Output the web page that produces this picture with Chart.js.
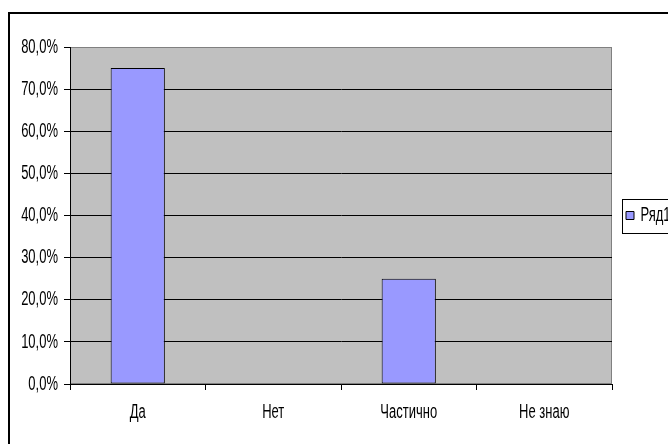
<!DOCTYPE html>
<html><head><meta charset="utf-8">
<script src="https://cdn.jsdelivr.net/npm/chart.js@4/dist/chart.umd.min.js"></script>
<style>
html,body{margin:0;padding:0;width:668px;height:444px;overflow:hidden;background:#fff;}
#frame{position:absolute;left:8px;top:12px;width:720px;height:460px;border:2px solid #000;}
canvas{display:block;}
</style></head><body>
<div id="frame"><canvas id="c" width="700" height="430"></canvas></div>
<script>
const categories = ['Да', 'Нет', 'Частично', 'Не знаю'];
const seriesName = 'Ряд1';
const values = [75, 0, 25, 0];
const yMin = 0, yMax = 80, yStep = 10;

const FONT = {family: '"Liberation Sans", Arial, sans-serif', size: 13};
const canvas = document.getElementById('c');
const ctx = canvas.getContext('2d');
const SY = 1.6;
const origFill = CanvasRenderingContext2D.prototype.fillText;
ctx.fillText = function (t, x, y, m) {
  this.save();
  this.translate(x, y);
  this.scale(1, SY);
  if (m === undefined) origFill.call(this, t, 0, 0); else origFill.call(this, t, 0, 0, m);
  this.restore();
};

const plotBg = {
  id: 'plotBg',
  beforeDraw(chart) {
    const a = chart.chartArea, c = chart.ctx;
    c.save();
    c.fillStyle = '#C0C0C0';
    c.fillRect(a.left, a.top, a.right - a.left, a.bottom - a.top);
    c.strokeStyle = '#808080';
    c.lineWidth = 1;
    c.strokeRect(a.left + 0.5, a.top + 0.5, a.right - a.left - 1, a.bottom - a.top - 1);
    c.restore();
  }
};
const legendFrame = {
  id: 'legendFrame',
  afterDraw(chart) {
    const lg = chart.legend;
    if (!lg || !lg.legendHitBoxes || !lg.legendHitBoxes.length) return;
    const hb = lg.legendHitBoxes[0];
    const cy = hb.top + hb.height / 2;
    const c = chart.ctx;
    c.save();
    c.strokeStyle = '#000';
    c.lineWidth = 1;
    c.strokeRect(Math.round(hb.left - 4) + 0.5, Math.round(cy - 17) + 0.5, 200, 34);
    c.restore();
  }
};

const chart = new Chart(ctx, {
  type: 'bar',
  data: {
    labels: categories,
    datasets: [{
      label: seriesName,
      data: values,
      backgroundColor: '#9999FF',
      borderColor: '#000000',
      borderWidth: 1,
      borderSkipped: false,
      barPercentage: 0.4,
      categoryPercentage: 1.0
    }]
  },
  options: {
    responsive: false,
    animation: false,
    events: [],
    layout: {padding: {top: 33, right: 10, bottom: 0, left: 0}},
    plugins: {
      legend: {
        position: 'right',
        fullSize: false,
        labels: {boxWidth: 8, boxHeight: 8, padding: 14, color: '#000', font: FONT}
      },
      tooltip: {enabled: false}
    },
    scales: {
      x: {
        grid: {display: true, drawOnChartArea: false, drawTicks: true, tickLength: 6, color: '#000', offset: true},
        border: {display: true, color: '#000', width: 1},
        ticks: {padding: 14, color: '#000', font: FONT},
        afterFit(s) { s.height = 60; }
      },
      y: {
        min: yMin, max: yMax,
        ticks: {
          stepSize: yStep, padding: 6, color: '#000', font: FONT,
          callback: v => v.toFixed(1).replace('.', ',') + '%'
        },
        grid: {
          color: c => (c.tick && c.tick.value === yMax) ? 'rgba(0,0,0,0)' : '#000',
          tickColor: '#000', tickLength: 6, lineWidth: 1
        },
        border: {display: true, color: '#000', width: 1},
        afterFit(s) { s.width = 60; }
      }
    }
  },
  plugins: [plotBg, legendFrame]
});
// place the plot's right edge at 602 (canvas px) by adjusting the right padding
const lgW = chart.legend.width;
chart.options.layout.padding.right = Math.max(0, canvas.width - 602 - lgW);
chart.update();
</script>
</body></html>
